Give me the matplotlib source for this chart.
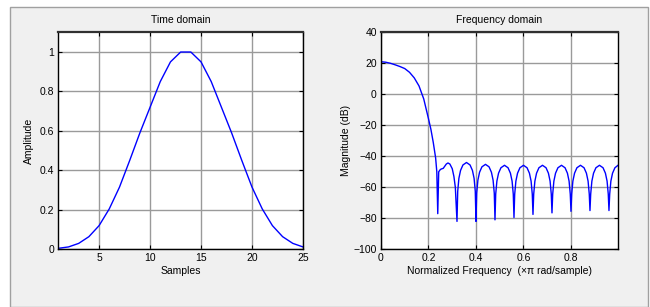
import matplotlib
matplotlib.use("Agg")
import matplotlib.pyplot as plt
from matplotlib.patches import Rectangle

plt.rcParams['font.family'] = ['Liberation Sans', 'DejaVu Sans']
plt.rcParams['font.size'] = 7.5

# ---- Time domain data (sample index, amplitude) ----
samples = list(range(1, 27))
amplitude = [0.005, 0.012, 0.03, 0.064, 0.12, 0.205, 0.315, 0.45, 0.59, 0.72,
             0.85, 0.95, 1.0, 1.0, 0.95, 0.85, 0.72, 0.59, 0.45, 0.315,
             0.205, 0.12, 0.064, 0.03, 0.012, 0.005]

# ---- Frequency domain data (normalized frequency, magnitude dB) ----
freq = [
    0.000, 0.020, 0.040, 0.060, 0.080, 0.100, 0.120, 0.140, 0.160, 0.180,
    0.200, 0.210, 0.220, 0.230, 0.235, 0.239,
    0.243, 0.250, 0.257, 0.262, 0.268, 0.275, 0.282, 0.290, 0.300, 0.307, 0.313,
    0.320, 0.323, 0.328, 0.335, 0.345, 0.360, 0.375, 0.385, 0.392, 0.397,
    0.400, 0.403, 0.408, 0.415, 0.425, 0.440, 0.455, 0.465, 0.472, 0.477,
    0.480, 0.483, 0.488, 0.495, 0.505, 0.520, 0.535, 0.545, 0.552, 0.557,
    0.560, 0.563, 0.568, 0.575, 0.585, 0.600, 0.615, 0.625, 0.632, 0.637,
    0.640, 0.643, 0.648, 0.655, 0.665, 0.680, 0.695, 0.705, 0.712, 0.717,
    0.720, 0.723, 0.728, 0.735, 0.745, 0.760, 0.775, 0.785, 0.792, 0.797,
    0.800, 0.803, 0.808, 0.815, 0.825, 0.840, 0.855, 0.865, 0.872, 0.877,
    0.880, 0.883, 0.888, 0.895, 0.905, 0.920, 0.935, 0.945, 0.952, 0.957,
    0.960, 0.963, 0.968, 0.975, 0.985, 0.998,
]
magnitude = [
    21.0, 20.7, 20.0, 19.0, 17.9, 16.6, 14.2, 10.6, 5.4, -3.0,
    -15.8, -22.5, -31.0, -41.0, -50.0, -77.0,
    -50.0, -48.5, -48.0, -47.8, -46.5, -45.0, -44.3, -45.0, -48.0, -53.0, -60.0,
    -82.0, -62.6, -54.2, -49.1, -45.6, -44.0, -45.6, -49.1, -54.2, -62.6,
    -82.0, -63.8, -55.4, -50.3, -46.8, -45.2, -46.8, -50.3, -55.4, -63.8,
    -81.0, -64.4, -56.0, -50.9, -47.4, -45.8, -47.4, -50.9, -56.0, -64.4,
    -79.5, -64.4, -56.0, -50.9, -47.4, -45.8, -47.4, -50.9, -56.0, -64.4,
    -77.5, -64.4, -56.0, -50.9, -47.4, -45.8, -47.4, -50.9, -56.0, -64.4,
    -76.5, -64.4, -56.0, -50.9, -47.4, -45.8, -47.4, -50.9, -56.0, -64.4,
    -75.5, -64.4, -56.0, -50.9, -47.4, -45.8, -47.4, -50.9, -56.0, -64.4,
    -75.0, -64.4, -56.0, -50.9, -47.4, -45.8, -47.4, -50.9, -56.0, -64.4,
    -75.0, -64.4, -56.0, -50.9, -47.4, -45.8,
]

time_xticks = [5, 10, 15, 20, 25]
time_yticks = [0, 0.2, 0.4, 0.6, 0.8, 1]
time_yticklabels = ['0', '0.2', '0.4', '0.6', '0.8', '1']
freq_xticks = [0, 0.2, 0.4, 0.6, 0.8]
freq_xticklabels = ['0', '0.2', '0.4', '0.6', '0.8']
freq_yticks = [-100, -80, -60, -40, -20, 0, 20, 40]

fig = plt.figure(figsize=(6.5, 3.07), dpi=100)
fig.patch.set_facecolor('white')
# MATLAB-like gray panel
panel = Rectangle((10 / 650, 0), 638 / 650, 1 - 7 / 307,
                  transform=fig.transFigure, facecolor='#f0f0f0',
                  edgecolor='#a0a0a0', linewidth=1.0, zorder=-10)
fig.add_artist(panel)

ax1 = fig.add_axes([58.3 / 650, 1 - 249.3 / 307, (303 - 58.3) / 650, (249.3 - 32.3) / 307])
ax2 = fig.add_axes([381 / 650, 1 - 249.3 / 307, (618 - 381) / 650, (249.3 - 32.3) / 307])

for ax in (ax1, ax2):
    ax.set_facecolor('white')
    ax.grid(True, color='#9a9a9a', linewidth=1.0, linestyle='-')
    ax.set_axisbelow(True)
    ax.tick_params(direction='in', length=3, width=0.8, top=True, right=True,
                   labelsize=7.5, pad=3, colors='black')
    for s in ax.spines.values():
        s.set_linewidth(1.0)
        s.set_color('black')
    ax.spines['top'].set_linewidth(1.6)
    ax.spines['top'].set_color('#303030')

ax1.plot(samples, amplitude, color='#0000ff', linewidth=1.0)
ax1.set_xlim(1, 25)
ax1.set_ylim(0, 1.1)
ax1.set_xticks(time_xticks)
ax1.set_yticks(time_yticks)
ax1.set_yticklabels(time_yticklabels)
ax1.set_title('Time domain', fontsize=7.5, pad=7)
ax1.set_xlabel('Samples', fontsize=7.5, labelpad=2)
ax1.set_ylabel('Amplitude', fontsize=7.5, labelpad=4)

ax2.plot(freq, magnitude, color='#0000ff', linewidth=1.0)
ax2.set_xlim(0, 0.998)
ax2.set_ylim(-100, 40)
ax2.set_xticks(freq_xticks)
ax2.set_xticklabels(freq_xticklabels)
ax2.set_yticks(freq_yticks)
ax2.set_title('Frequency domain', fontsize=7.5, pad=7)
ax2.set_xlabel('Normalized Frequency  (\u00d7\u03c0 rad/sample)', fontsize=7.5, labelpad=2)
ax2.set_ylabel('Magnitude (dB)', fontsize=7.5, labelpad=2)

fig.savefig('out.png', dpi=100, facecolor=fig.get_facecolor())
